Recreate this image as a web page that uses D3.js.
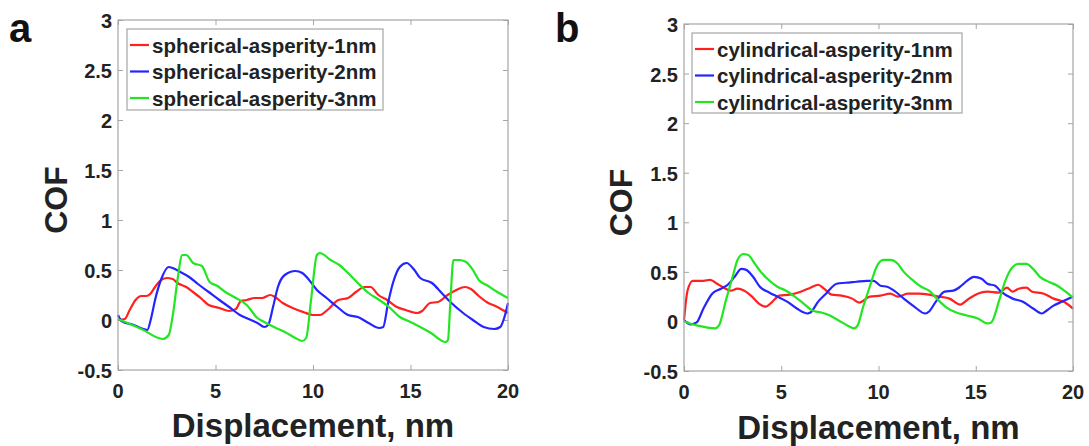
<!DOCTYPE html>
<html>
<head>
<meta charset="utf-8">
<script src="https://cdn.jsdelivr.net/npm/d3@7"></script>
<style>
  html, body { margin: 0; padding: 0; background: #ffffff; }
  svg { display: block; }
  text { font-family: "Liberation Sans", Arial, Helvetica, sans-serif; font-weight: bold; fill: #222; }
</style>
</head>
<body>
<svg id="fig" width="1089" height="446"></svg>
<script>
// Axis ticks shared by both panels
const xTicks = [0, 5, 10, 15, 20];
const yTicks = [-0.5, 0, 0.5, 1, 1.5, 2, 2.5, 3];

// Legend labels
const sphericalLabels = ["spherical-asperity-1nm", "spherical-asperity-2nm", "spherical-asperity-3nm"];
const cylindricalLabels = ["cylindrical-asperity-1nm", "cylindrical-asperity-2nm", "cylindrical-asperity-3nm"];

// COF vs displacement (nm), spherical asperities
const spherical1nm = [[0,0],[0.35,0.01],[0.6,0.1],[0.9,0.2],[1.2,0.24],[1.45,0.24],[1.65,0.26],[1.9,0.33],[2.15,0.39],[2.5,0.42],[2.8,0.41],[3.05,0.37],[3.5,0.33],[3.85,0.28],[4.3,0.21],[4.65,0.15],[5.2,0.12],[5.7,0.09],[6.05,0.11],[6.3,0.19],[6.6,0.2],[7.0,0.22],[7.4,0.22],[7.8,0.25],[8.05,0.23],[8.45,0.17],[8.95,0.12],[9.5,0.08],[10.0,0.05],[10.35,0.05],[10.8,0.11],[11.3,0.2],[11.8,0.22],[12.2,0.28],[12.65,0.33],[12.95,0.33],[13.35,0.25],[13.8,0.2],[14.3,0.13],[14.75,0.1],[15.35,0.07],[15.6,0.09],[16.0,0.17],[16.4,0.18],[16.9,0.25],[17.35,0.3],[17.8,0.33],[18.1,0.31],[18.5,0.24],[18.9,0.18],[19.45,0.13],[20,0.07]];
const spherical2nm = [[0,0.05],[0.18,-0.01],[0.8,-0.05],[1.5,-0.1],[1.7,0.02],[1.9,0.2],[2.2,0.4],[2.6,0.53],[2.8,0.52],[3.2,0.48],[3.65,0.43],[4.1,0.36],[4.65,0.28],[5.2,0.2],[5.7,0.13],[6.25,0.05],[6.7,0.01],[7.15,-0.03],[7.5,-0.07],[7.7,-0.05],[7.95,0.13],[8.2,0.33],[8.55,0.45],[9.1,0.49],[9.45,0.47],[9.8,0.4],[10.2,0.3],[10.7,0.22],[11.25,0.13],[11.8,0.05],[12.3,0.03],[12.85,-0.03],[13.4,-0.08],[13.6,-0.07],[13.85,0.17],[14.1,0.37],[14.45,0.53],[14.8,0.57],[15.2,0.5],[15.5,0.42],[16.1,0.37],[16.6,0.27],[17.1,0.17],[17.7,0.07],[18.2,0.0],[18.75,-0.07],[19.3,-0.09],[19.6,-0.07],[19.85,0.05],[20,0.17]];
const spherical3nm = [[0,0.01],[1.2,-0.09],[2.3,-0.19],[2.6,-0.15],[2.85,0.1],[3.05,0.4],[3.3,0.65],[3.5,0.65],[3.85,0.57],[4.3,0.54],[4.7,0.38],[5.1,0.34],[5.5,0.28],[6.05,0.22],[6.6,0.15],[7.15,0.02],[7.5,-0.02],[8.0,-0.07],[8.55,-0.12],[9.1,-0.18],[9.45,-0.21],[9.65,-0.18],[9.9,0.2],[10.2,0.65],[10.35,0.67],[10.9,0.6],[11.35,0.55],[11.8,0.47],[12.3,0.37],[12.85,0.27],[13.4,0.2],[13.9,0.13],[14.45,0.03],[15.0,-0.02],[15.5,-0.07],[16.05,-0.13],[16.8,-0.22],[16.92,-0.2],[17.05,0.2],[17.2,0.6],[17.5,0.6],[17.85,0.58],[18.2,0.5],[18.5,0.4],[18.9,0.35],[19.45,0.28],[20,0.22]];

// COF vs displacement (nm), cylindrical asperities
const cylindrical1nm = [[0,0.01],[0.18,0.31],[0.45,0.41],[1.0,0.41],[1.35,0.42],[1.7,0.38],[2.05,0.34],[2.4,0.31],[2.75,0.33],[3.1,0.31],[3.5,0.25],[3.85,0.18],[4.2,0.15],[4.55,0.2],[4.9,0.26],[5.45,0.27],[6.0,0.3],[6.5,0.34],[6.9,0.37],[7.2,0.33],[7.6,0.27],[8.1,0.26],[8.65,0.23],[9.0,0.19],[9.55,0.25],[10.1,0.26],[10.6,0.28],[11.0,0.25],[11.5,0.28],[12.05,0.28],[12.6,0.27],[13.1,0.25],[13.65,0.23],[14.2,0.17],[14.65,0.23],[15.1,0.28],[15.6,0.3],[16.2,0.29],[16.6,0.34],[16.9,0.3],[17.2,0.33],[17.6,0.34],[17.9,0.3],[18.5,0.28],[19.0,0.23],[19.5,0.2],[20,0.13]];
const cylindrical2nm = [[0,0.01],[0.35,-0.03],[0.65,-0.01],[1.0,0.13],[1.45,0.28],[1.9,0.33],[2.25,0.37],[2.6,0.45],[2.95,0.53],[3.2,0.52],[3.55,0.45],[3.9,0.35],[4.4,0.29],[4.8,0.25],[5.3,0.2],[5.8,0.13],[6.35,0.08],[6.5,0.09],[6.9,0.2],[7.3,0.28],[7.85,0.38],[8.3,0.39],[8.85,0.4],[9.4,0.41],[9.75,0.41],[10.1,0.36],[10.45,0.35],[10.8,0.31],[11.3,0.23],[11.9,0.14],[12.4,0.08],[12.6,0.1],[12.95,0.2],[13.4,0.3],[13.85,0.31],[14.2,0.35],[14.55,0.41],[14.9,0.45],[15.3,0.43],[15.6,0.38],[16.0,0.36],[16.3,0.3],[16.9,0.23],[17.4,0.2],[17.95,0.13],[18.4,0.08],[18.65,0.11],[19.0,0.16],[19.45,0.2],[20,0.25]];
const cylindrical3nm = [[0,0],[0.65,-0.04],[1.15,-0.06],[1.6,-0.07],[1.8,-0.04],[2.15,0.21],[2.5,0.45],[2.75,0.62],[3.05,0.68],[3.3,0.67],[3.65,0.58],[3.95,0.5],[4.4,0.41],[4.8,0.35],[5.25,0.31],[5.7,0.25],[6.15,0.18],[6.6,0.11],[7.05,0.09],[7.5,0.06],[7.95,0.01],[8.4,-0.04],[8.75,-0.07],[8.93,-0.04],[9.2,0.14],[9.55,0.35],[9.9,0.55],[10.25,0.62],[10.6,0.62],[11.0,0.58],[11.3,0.5],[11.8,0.41],[12.2,0.35],[12.6,0.31],[13.0,0.23],[13.5,0.14],[14.0,0.09],[14.55,0.06],[15.1,0.03],[15.6,-0.02],[15.8,-0.01],[16.2,0.21],[16.5,0.4],[16.9,0.55],[17.2,0.58],[17.6,0.58],[17.95,0.53],[18.3,0.45],[18.75,0.4],[19.2,0.36],[19.55,0.31],[20,0.24]];

const seriesColors = ["#ff2020", "#2424ff", "#22e622"];
const axisGray = "#a6a6a6";

const svg = d3.select("#fig");

function drawPanel(p) {
  const g = svg.append("g");
  const x = d3.scaleLinear().domain([0, 20]).range([p.left, p.right]);
  const y = d3.scaleLinear().domain([-0.5, 3]).range([p.bottom, p.top]);

  // panel letter
  g.append("text").attr("x", p.letterX).attr("y", 42)
    .style("font-size", "40px").style("fill", "#111").text(p.letter);

  // ticks pointing inward on all four sides
  const tl = 5;
  const bottomAxis = d3.axisBottom(x).tickValues(xTicks).tickSize(-tl).tickFormat("");
  const topAxis = d3.axisTop(x).tickValues(xTicks).tickSize(-tl).tickFormat("");
  const leftAxis = d3.axisLeft(y).tickValues(yTicks).tickSize(-tl).tickFormat("");
  const rightAxis = d3.axisRight(y).tickValues(yTicks).tickSize(-tl).tickFormat("");
  [[bottomAxis, `translate(0,${p.bottom})`], [topAxis, `translate(0,${p.top})`],
   [leftAxis, `translate(${p.left},0)`], [rightAxis, `translate(${p.right},0)`]].forEach(([ax, tr]) => {
    const a = g.append("g").attr("transform", tr).call(ax);
    a.select(".domain").remove();
    a.selectAll("line").attr("stroke", axisGray).attr("stroke-width", 1);
  });

  // tick labels
  g.selectAll(".xl").data(xTicks).join("text")
    .attr("x", d => x(d)).attr("y", p.bottom + 28)
    .attr("text-anchor", "middle").style("font-size", "20px").text(d => d);
  g.selectAll(".yl").data(yTicks).join("text")
    .attr("x", p.left - 6).attr("y", d => y(d) + 8)
    .attr("text-anchor", "end").style("font-size", "20px").text(d => d);

  // curves
  const line = d3.line().x(d => x(d[0])).y(d => y(d[1])).curve(d3.curveMonotoneX);
  p.series.forEach((s, i) => {
    g.append("path").datum(s).attr("d", line)
      .attr("fill", "none").attr("stroke", seriesColors[i])
      .attr("stroke-width", 2.2).attr("stroke-linejoin", "round");
  });

  // plot box
  g.append("rect").attr("x", p.left).attr("y", p.top)
    .attr("width", p.right - p.left).attr("height", p.bottom - p.top)
    .attr("fill", "none").attr("stroke", axisGray).attr("stroke-width", 1.2);

  // axis titles
  g.append("text").attr("x", (p.left + p.right) / 2).attr("y", p.xTitleY)
    .attr("text-anchor", "middle").style("font-size", "33px").text("Displacement, nm");
  g.append("text")
    .attr("transform", `translate(${p.yTitleX},${(p.top + p.bottom) / 2 + 5}) rotate(-90)`)
    .attr("text-anchor", "middle").style("font-size", "32px").text("COF");

  // legend
  const L = p.legend;
  g.append("rect").attr("x", L.x).attr("y", L.y).attr("width", L.w).attr("height", L.h)
    .attr("fill", "#fff").attr("stroke", axisGray).attr("stroke-width", 1.2);
  p.labels.forEach((lab, i) => {
    const cy = L.y + 16 + i * 26.5;
    g.append("line").attr("x1", L.x + 3).attr("x2", L.x + 22).attr("y1", cy).attr("y2", cy)
      .attr("stroke", seriesColors[i]).attr("stroke-width", 2.2);
    g.append("text").attr("x", L.x + 25).attr("y", cy + 7.5)
      .style("font-size", "20.5px").text(lab);
  });
}

drawPanel({
  letter: "a", letterX: 9,
  left: 118, right: 508, top: 20, bottom: 370,
  xTitleY: 437, yTitleX: 67,
  series: [spherical1nm, spherical2nm, spherical3nm],
  labels: sphericalLabels,
  legend: { x: 127, y: 29, w: 256, h: 81 }
});

drawPanel({
  letter: "b", letterX: 555,
  left: 684, right: 1073, top: 24, bottom: 371,
  xTitleY: 439, yTitleX: 632,
  series: [cylindrical1nm, cylindrical2nm, cylindrical3nm],
  labels: cylindricalLabels,
  legend: { x: 692, y: 33, w: 270, h: 80 }
});
</script>
</body>
</html>
